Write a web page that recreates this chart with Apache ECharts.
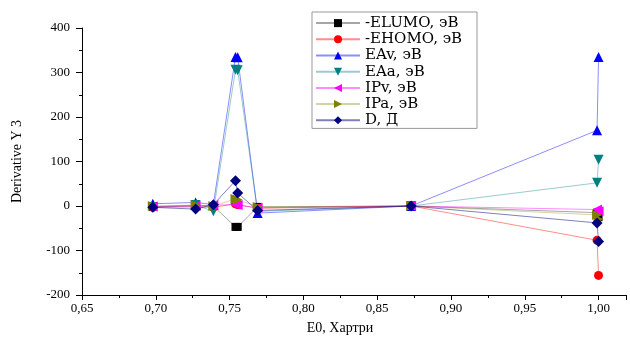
<!DOCTYPE html>
<html>
<head>
<meta charset="utf-8">
<script src="https://cdn.jsdelivr.net/npm/echarts@6/dist/echarts.min.js"></script>
<style>html,body{margin:0;padding:0;background:#fff}#c{width:630px;height:340px}</style>
</head>
<body>
<div id="c"></div>
<script>
const xValues = [0.698, 0.727, 0.739, 0.754, 0.7555, 0.769, 0.873, 0.999, 1.0];
const eLUMO = [-2, 0, 0, -47, -47, -2, 0, -15, -25];
const eHOMO = [-3, -2, -3, 5, 3, -5, 0, -77, -156];
const eAv = [5, 8, 3, 335, 334, -16, 0, 170, 335];
const eAa = [-2, 2, -12, 306, 305, -12, 0, 52, 104];
const iPv = [-1, 0, 2, 3, 2, -4, 0, -8, -12];
const iPa = [0, 2, 0, 16, 14, -2, 0, -20, -30];
const dVals = [-3, -7, 3, 57, 29, -10, 0, -38, -80];
const seriesNames = ['-ELUMO, эВ', '-EHOMO, эВ', 'EAv, эВ', 'EAa, эВ', 'IPv, эВ', 'IPa, эВ', 'D, Д'];
const yTicks = [-200, -100, 0, 100, 200, 300, 400];

const FONT = '"Liberation Serif", "Times New Roman", serif';
const LFONT = '"DejaVu Serif", serif';
const defs = [
  {d: eLUMO, c: '#000000', l: 'rgba(0,0,0,0.35)', s: 'rect', sz: 8, r: 0},
  {d: eHOMO, c: '#ff0000', l: 'rgba(255,0,0,0.45)', s: 'circle', sz: 9, r: 0},
  {d: eAv, c: '#0000ff', l: 'rgba(0,0,255,0.45)', s: 'triangle', sz: 10, r: 0},
  {d: eAa, c: '#008080', l: 'rgba(0,128,128,0.4)', s: 'triangle', sz: 10, r: 180},
  {d: iPv, c: '#ff00ff', l: 'rgba(255,0,255,0.45)', s: 'triangle', sz: 10, r: 90},
  {d: iPa, c: '#808000', l: 'rgba(128,128,0,0.35)', s: 'triangle', sz: 10, r: -90},
  {d: dVals, c: '#000080', l: 'rgba(0,0,128,0.5)', s: 'diamond', sz: 11, r: 0}
];
const series = defs.map((o, i) => ({
  name: seriesNames[i],
  type: 'line',
  data: xValues.map((x, k) => [x, o.d[k]]),
  symbol: o.s,
  symbolSize: o.sz,
  symbolRotate: o.r,
  itemStyle: {color: o.c},
  lineStyle: {color: o.l, width: 1},
  emphasis: {disabled: true},
  animation: false
}));

const chart = echarts.init(document.getElementById('c'));
chart.setOption({
  backgroundColor: '#fff',
  animation: false,
  grid: {left: 82, right: 4, top: 28, bottom: 36, containLabel: false},
  legend: {
    orient: 'vertical', left: 312, top: 12,
    padding: [3, 2, 0, 3], itemGap: 0,
    itemWidth: 44, itemHeight: 10,
    borderColor: '#999', borderWidth: 1,
    textStyle: {fontFamily: LFONT, fontSize: 15, color: '#000', lineHeight: 16.2, width: 110}
  },
  xAxis: {
    type: 'value', min: 0.65, max: 1.0186, interval: 0.05,
    name: 'E0, Хартри', nameLocation: 'middle', nameGap: 26,
    nameTextStyle: {fontFamily: FONT, fontSize: 14, color: '#000', padding: [0, 28, 0, 0]},
    axisLine: {show: true, onZero: false, lineStyle: {color: '#000', width: 1}},
    axisTick: {show: true, inside: false, length: 5, lineStyle: {color: '#000'}},
    minorTick: {show: true, splitNumber: 2, length: 3, lineStyle: {color: '#000'}},
    splitLine: {show: false},
    axisLabel: {fontFamily: FONT, fontSize: 13, color: '#000', margin: 7, showMaxLabel: false,
      formatter: v => v.toFixed(2).replace('.', ',')}
  },
  yAxis: {
    type: 'value', min: yTicks[0], max: yTicks[yTicks.length - 1], interval: 100,
    name: 'Derivative Y 3', nameLocation: 'middle', nameGap: 58,
    nameTextStyle: {fontFamily: FONT, fontSize: 14, color: '#000'},
    axisLine: {show: true, onZero: false, lineStyle: {color: '#000', width: 1}},
    axisTick: {show: true, inside: false, length: 6, lineStyle: {color: '#000'}},
    minorTick: {show: true, splitNumber: 2, length: 3, lineStyle: {color: '#000'}},
    splitLine: {show: false},
    axisLabel: {fontFamily: FONT, fontSize: 13, color: '#000', margin: 12}
  },
  series: series
});
</script>
</body>
</html>
